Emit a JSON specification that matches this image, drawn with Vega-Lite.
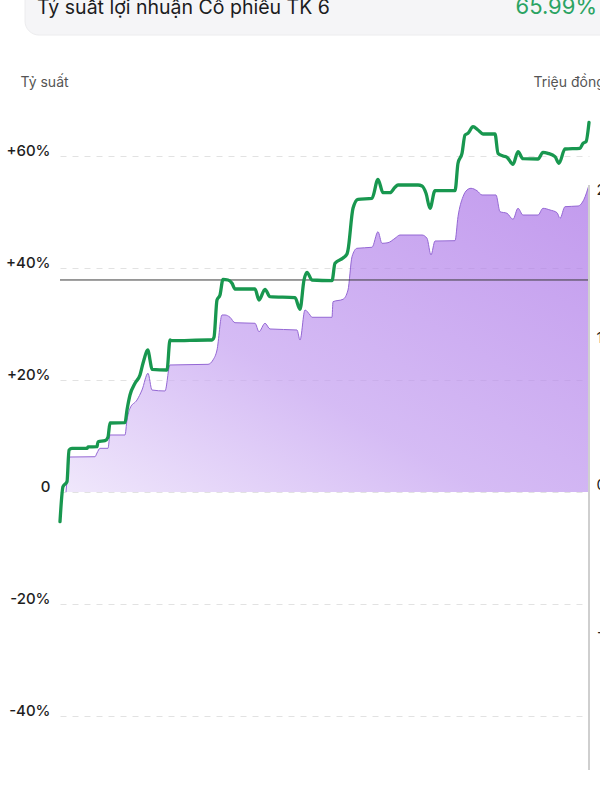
{
  "$schema": "https://vega.github.io/schema/vega-lite/v6.json",
  "width": 529,
  "height": 672,
  "autosize": "none",
  "padding": {"left": 60, "top": 100, "right": 11, "bottom": 28},
  "background": "white",
  "config": {"view": {"stroke": null}, "font": "Inter"},
  "datasets": {
    "green": [
      {"t":0,"v":-5.3},{"t":3,"v":0.95},{"t":7,"v":1.84},{"t":9,"v":7.5},{"t":12,"v":7.8},{"t":27,"v":7.8},{"t":28,"v":8.04},{"t":37,"v":8.09},{"t":38,"v":8.98},{"t":45,"v":9.16},{"t":48,"v":9.82},{"t":50,"v":12.32},{"t":65,"v":12.38},{"t":67,"v":14.64},{"t":70,"v":17.32},{"t":75,"v":19.41},{"t":80,"v":20.89},{"t":83,"v":22.98},{"t":88,"v":25.36},{"t":90,"v":23.57},{"t":92,"v":21.91},{"t":107,"v":21.79},{"t":110,"v":27.14},{"t":112,"v":27.02},{"t":148,"v":27.14},{"t":152,"v":27.14},{"t":154,"v":27.63},{"t":157,"v":34.29},{"t":160,"v":35.18},{"t":163,"v":37.98},{"t":168,"v":37.86},{"t":172,"v":37.27},{"t":175,"v":36.25},{"t":195,"v":36.25},{"t":199,"v":34.29},{"t":205,"v":36.2},{"t":210,"v":34.88},{"t":235,"v":34.7},{"t":240,"v":32.63},{"t":244,"v":37.86},{"t":247,"v":39.23},{"t":252,"v":37.86},{"t":272,"v":37.73},{"t":275,"v":40.84},{"t":283,"v":41.79},{"t":287,"v":42.5},{"t":288,"v":43.21},{"t":293,"v":50.66},{"t":298,"v":52.27},{"t":312,"v":52.45},{"t":318,"v":55.84},{"t":323,"v":53.45},{"t":330,"v":53.45},{"t":335,"v":54.41},{"t":338,"v":54.82},{"t":358,"v":54.82},{"t":362,"v":54.64},{"t":366,"v":53.34},{"t":370,"v":50.66},{"t":375,"v":53.8},{"t":395,"v":53.8},{"t":398,"v":58.7},{"t":402,"v":60.48},{"t":405,"v":63.75},{"t":408,"v":64.05},{"t":413,"v":65.23},{"t":418,"v":64.64},{"t":423,"v":63.93},{"t":435,"v":63.93},{"t":438,"v":60.48},{"t":443,"v":60.0},{"t":447,"v":59.77},{"t":453,"v":58.52},{"t":458,"v":60.77},{"t":463,"v":59.52},{"t":478,"v":59.46},{"t":483,"v":60.66},{"t":488,"v":60.48},{"t":495,"v":59.88},{"t":499,"v":58.7},{"t":505,"v":61.25},{"t":520,"v":61.38},{"t":523,"v":62.27},{"t":526,"v":62.55},{"t":529,"v":65.99}
    ],
    "purple": [
      {"t":6,"v":0},{"t":8,"v":3.93},{"t":10,"v":6.25},{"t":35,"v":6.3},{"t":37,"v":6.96},{"t":40,"v":7.8},{"t":48,"v":7.8},{"t":50,"v":10.18},{"t":65,"v":10.18},{"t":67,"v":12.86},{"t":70,"v":14.95},{"t":77,"v":16.43},{"t":82,"v":18.21},{"t":88,"v":21.2},{"t":92,"v":18.21},{"t":105,"v":18.04},{"t":110,"v":22.68},{"t":148,"v":22.8},{"t":153,"v":23.57},{"t":157,"v":25.36},{"t":162,"v":31.61},{"t":165,"v":31.61},{"t":170,"v":31.2},{"t":175,"v":30.23},{"t":195,"v":30.13},{"t":199,"v":28.63},{"t":205,"v":30.13},{"t":210,"v":29.11},{"t":237,"v":28.93},{"t":240,"v":27.14},{"t":245,"v":32.5},{"t":250,"v":31.61},{"t":252,"v":31.2},{"t":272,"v":31.2},{"t":273,"v":33.98},{"t":283,"v":34.41},{"t":288,"v":36.07},{"t":292,"v":42.02},{"t":297,"v":43.52},{"t":312,"v":43.7},{"t":318,"v":46.48},{"t":322,"v":44.41},{"t":328,"v":44.52},{"t":335,"v":45.3},{"t":340,"v":45.89},{"t":362,"v":45.89},{"t":367,"v":45.3},{"t":371,"v":42.32},{"t":375,"v":44.82},{"t":395,"v":44.88},{"t":398,"v":49.16},{"t":403,"v":52.73},{"t":407,"v":53.93},{"t":411,"v":54.23},{"t":417,"v":53.8},{"t":422,"v":53.04},{"t":436,"v":53.04},{"t":440,"v":50.05},{"t":447,"v":49.77},{"t":453,"v":48.7},{"t":458,"v":50.66},{"t":463,"v":49.46},{"t":478,"v":49.46},{"t":483,"v":50.66},{"t":490,"v":50.36},{"t":497,"v":49.88},{"t":500,"v":48.88},{"t":505,"v":50.95},{"t":518,"v":51.07},{"t":524,"v":52.27},{"t":529,"v":54.82}
    ],
    "header": [
      {"left": "Tỷ suất lợi nhuận Cổ phiếu TK 6", "right": "65.99%"}
    ]
  },
  "layer": [
    {
      "layer": [
        {
          "data": {"name": "purple"},
          "mark": {
            "type": "area",
            "interpolate": "monotone",
            "fill": {
              "gradient": "linear", "x1": 0, "y1": 1, "x2": 1, "y2": 0,
              "stops": [
                {"offset": 0, "color": "#e9ddfa"},
                {"offset": 0.4, "color": "#c39ef0"},
                {"offset": 1, "color": "#a86fe6"}
              ]
            },
            "line": {"color": "#9467d4", "strokeWidth": 1}
          },
          "encoding": {
            "x": {"field": "t", "type": "quantitative", "scale": {"domain": [0, 529], "nice": false, "zero": false}, "axis": null},
            "y": {
              "field": "v", "type": "quantitative",
              "scale": {"domain": [-50, 70], "nice": false, "zero": false},
              "title": "Tỷ suất",
              "axis": {
                "orient": "left",
                "values": [-40, -20, 0, 20, 40, 60],
                "labelExpr": "datum.value > 0 ? '+' + datum.value + '%' : (datum.value == 0 ? '0' : datum.value + '%')",
                "labelFontSize": 15,
                "labelFontWeight": 500,
                "labelColor": "#1e1e1e",
                "labelPadding": 10,
                "labelOffset": -6,
                "domain": false,
                "ticks": false,
                "grid": true,
                "gridDash": [6, 6],
                "gridColor": "#e2e2e2",
                "gridWidth": 1,
                "titleAngle": 0,
                "titleAlign": "left",
                "titleBaseline": "alphabetic",
                "titleX": -40,
                "titleY": -14,
                "titleFontSize": 14,
                "titleFontWeight": "normal",
                "titleColor": "#555555"
              }
            }
          }
        },
        {
          "data": {"name": "header"},
          "mark": {"type": "rule", "color": "#3a3a3a", "strokeWidth": 1},
          "encoding": {"y": {"datum": 37.86, "type": "quantitative"}}
        },
        {
          "data": {"name": "green"},
          "mark": {"type": "line", "interpolate": "monotone", "color": "#18974f", "strokeWidth": 3.3, "strokeCap": "round", "strokeJoin": "round"},
          "encoding": {
            "x": {"field": "t", "type": "quantitative", "axis": null},
            "y": {"field": "v", "type": "quantitative", "title": "Tỷ suất"}
          }
        },
        {
          "data": {"name": "header"},
          "mark": {"type": "rect", "fill": "#f5f5f7", "cornerRadius": 14, "stroke": "#ececee", "strokeWidth": 1},
          "encoding": {
            "x": {"datum": -35, "type": "quantitative", "axis": null},
            "x2": {"datum": 570},
            "y": {"datum": 91, "type": "quantitative"},
            "y2": {"datum": 81.6}
          }
        },
        {
          "data": {"name": "header"},
          "mark": {"type": "text", "align": "left", "baseline": "alphabetic", "fontSize": 19.5, "color": "#1c1c1e"},
          "encoding": {
            "x": {"datum": -23, "type": "quantitative", "axis": null},
            "y": {"datum": 85.36, "type": "quantitative"},
            "text": {"field": "left"}
          }
        },
        {
          "data": {"name": "header"},
          "mark": {"type": "text", "align": "right", "baseline": "alphabetic", "fontSize": 22, "color": "#2aa362"},
          "encoding": {
            "x": {"datum": 537, "type": "quantitative", "axis": null},
            "y": {"datum": 85.36, "type": "quantitative"},
            "text": {"field": "right"}
          }
        }
      ]
    },
    {
      "data": {"name": "header"},
      "mark": {"type": "rule", "color": "#cfcfcf", "strokeWidth": 2},
      "encoding": {
        "x": {"datum": 529, "type": "quantitative", "axis": null},
        "y": {
          "datum": 2.034, "type": "quantitative",
          "scale": {"domain": [-1.946, 2.61], "nice": false, "zero": false},
          "axis": {
            "title": "Triệu đồng",
            "orient": "right",
            "values": [2, 1, 0, -1],
            "labelFontSize": 15,
            "labelColor": "#222222",
            "labelPadding": 7,
            "domain": false,
            "ticks": false,
            "grid": false,
            "titleAngle": 0,
            "titleAlign": "left",
            "titleBaseline": "alphabetic",
            "titleX": -56,
            "titleY": -14,
            "titleFontSize": 14,
            "titleFontWeight": "normal",
            "titleColor": "#555555"
          }
        },
        "y2": {"datum": -1.932}
      }
    }
  ],
  "resolve": {"scale": {"y": "independent"}}
}
